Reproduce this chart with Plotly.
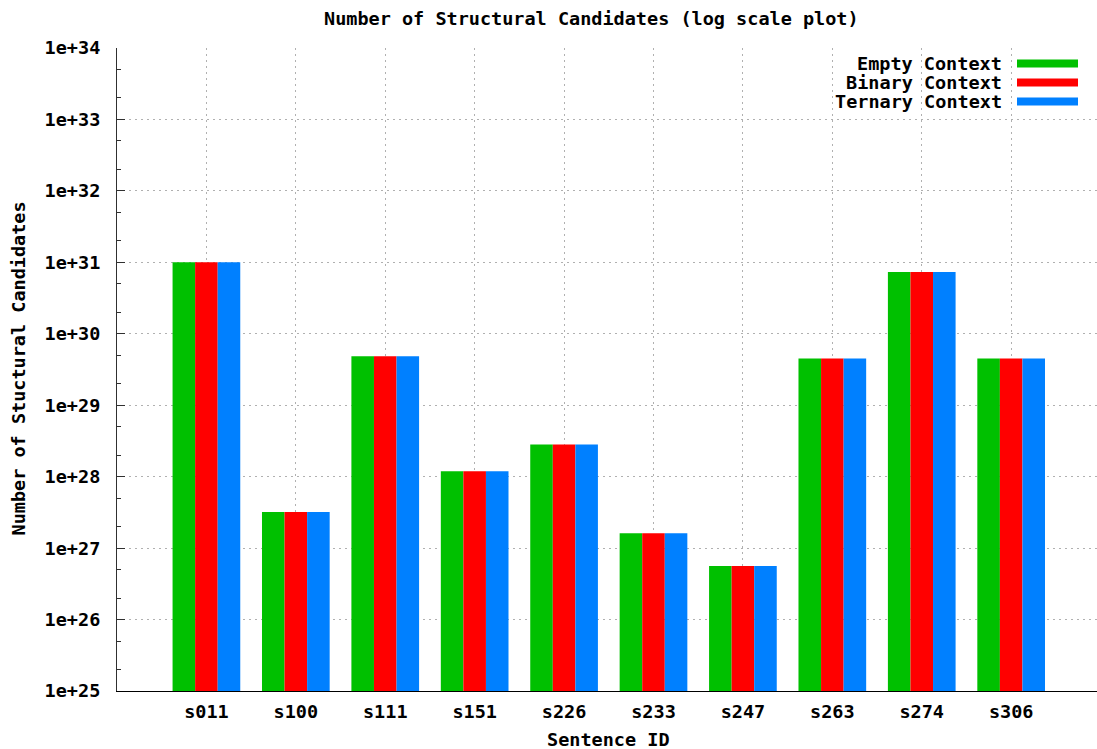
import plotly.graph_objects as go

# Sentence IDs and candidate counts per context model
sentences = ["s011", "s100", "s111", "s151", "s226", "s233", "s247", "s263", "s274", "s306"]
empty_ctx = [1.0e31, 3.2e27, 4.84e29, 1.19e28, 2.81e28, 1.61e27, 5.62e26, 4.49e29, 7.33e30, 4.49e29]
binary_ctx = [1.0e31, 3.2e27, 4.84e29, 1.19e28, 2.81e28, 1.61e27, 5.62e26, 4.49e29, 7.33e30, 4.49e29]
ternary_ctx = [1.0e31, 3.2e27, 4.84e29, 1.19e28, 2.81e28, 1.61e27, 5.62e26, 4.49e29, 7.33e30, 4.49e29]

series_names = ["Empty Context", "Binary Context", "Ternary Context"]
series_values = [empty_ctx, binary_ctx, ternary_ctx]
series_colors = ["#00C000", "#FF0000", "#0080FF"]

# Decade ticks 1e+25 .. 1e+34
exponents = list(range(25, 35))
tick_vals = [10.0 ** e for e in exponents]
tick_text = [f"1e+{e}" for e in exponents]
minor_vals = [m * 10.0 ** e for e in exponents[:-1] for m in (2, 5)]

FONT = "DejaVu Sans Mono"
FSIZE = 18.5
TXT = dict(family=FONT, size=FSIZE, color="black", weight="bold")
W, H = 1097, 749
ML, MR, MT, MB = 117, 0, 48, 58
plot_w = W - ML - MR
plot_h = H - MT - MB
GRID = "#b0b0b0"

fig = go.Figure()
x_idx = list(range(len(sentences)))
for name, vals, col in zip(series_names, series_values, series_colors):
    fig.add_trace(go.Bar(
        x=x_idx, y=vals, name=name,
        marker=dict(color=col, line=dict(width=0)),
        showlegend=False,
    ))

fig.update_layout(
    width=W, height=H,
    margin=dict(l=ML, r=MR, t=MT, b=MB),
    paper_bgcolor="white", plot_bgcolor="white",
    barmode="group", bargap=0.243, bargroupgap=0,
    font=TXT,
)

fig.update_xaxes(
    tickmode="array", tickvals=x_idx, ticktext=sentences,
    range=[-1, 9.96],
    showgrid=True, gridcolor=GRID, griddash="2px,4px", gridwidth=1,
    showline=True, linecolor="black", linewidth=1,
    ticks="", ticklabelstandoff=4,
    tickfont=TXT,
    zeroline=False,
)

fig.update_yaxes(
    type="log", range=[25, 34],
    tickmode="array", tickvals=tick_vals, ticktext=tick_text,
    showgrid=True, gridcolor=GRID, griddash="2px,4px", gridwidth=1,
    showline=True, linecolor="#303030", linewidth=1,
    ticks="inside", ticklen=8, tickcolor="#303030",
    ticklabelstandoff=12,
    minor=dict(tickmode="array", tickvals=minor_vals, ticks="inside",
               ticklen=4, tickcolor="#303030", showgrid=False),
    tickfont=TXT,
    zeroline=False,
)

def px_x(px):
    return (px - ML) / plot_w

def px_y(py):
    return (H - MB - py) / plot_h

annotations = [
    dict(text="Number of Structural Candidates (log scale plot)",
         x=px_x(591), y=px_y(18), xref="paper", yref="paper",
         xanchor="center", yanchor="middle", showarrow=False, font=TXT),
    dict(text="Sentence ID",
         x=px_x(608), y=px_y(740), xref="paper", yref="paper",
         xanchor="center", yanchor="middle", showarrow=False, font=TXT),
    dict(text="Number of Stuctural Candidates",
         x=px_x(18.5), y=px_y(369), xref="paper", yref="paper",
         xanchor="center", yanchor="middle", showarrow=False, textangle=-90,
         font=TXT),
]

# Key in the top-right corner: right-aligned labels followed by colour swatches
shapes = []
row_centres = [63.5, 82.5, 101.5]
for name, col, yc in zip(series_names, series_colors, row_centres):
    annotations.append(dict(
        text=name, x=px_x(1004), y=px_y(yc), xref="paper", yref="paper",
        xanchor="right", yanchor="middle", showarrow=False, font=TXT))
    shapes.append(dict(
        type="rect", xref="paper", yref="paper",
        x0=px_x(1017), x1=px_x(1078), y0=px_y(yc + 4), y1=px_y(yc - 4),
        fillcolor=col, line=dict(width=0)))

fig.update_layout(annotations=annotations, shapes=shapes)

fig.write_html("out.html")
